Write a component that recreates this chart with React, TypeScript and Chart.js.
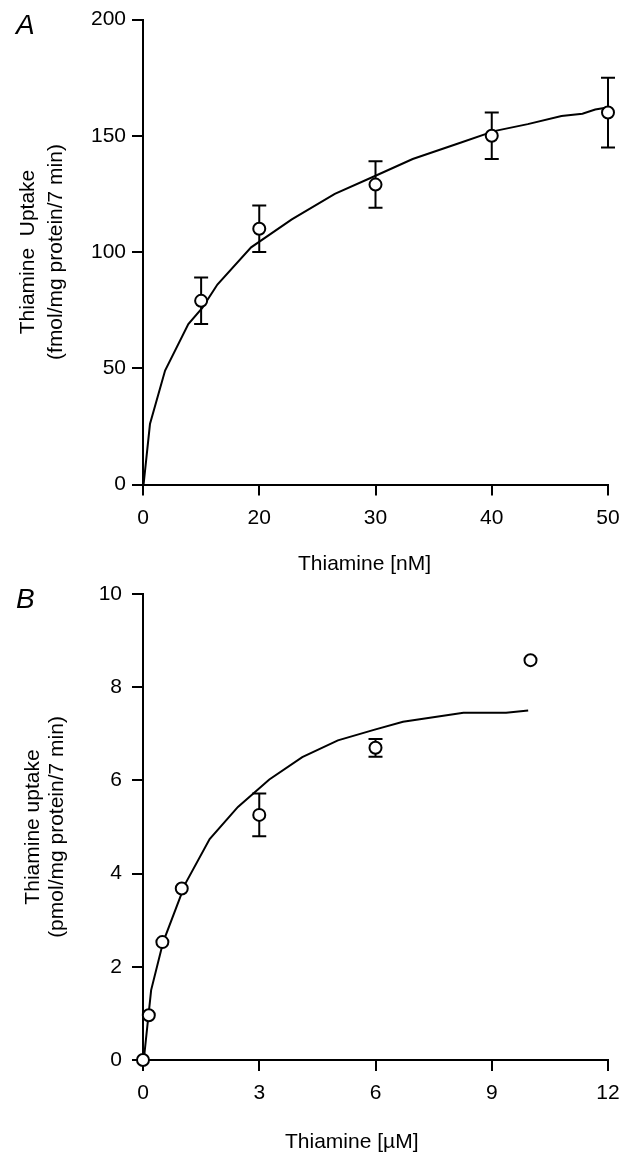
import React, { useEffect, useRef } from 'react';
import { Chart, registerables } from 'chart.js';

Chart.register(...registerables);
Chart.defaults.font.family = "'Liberation Sans', Arial, Helvetica, sans-serif";
Chart.defaults.color = '#000';

// ---------- Panel A (Thiamine [nM]) ----------
const A_POINT_X = [15, 20, 30, 40, 50];
const A_POINT_Y = [79, 110, 129, 150, 160];
const A_POINT_ERR = [10, 10, 10, 10, 15];
const A_CURVE_X = [10.05, 10.6, 11.9, 13.9, 15.1, 16.4, 19.3, 22.8, 26.5, 30.1, 33.2, 37.3, 40.2, 43.1, 46.0, 47.8, 48.9, 49.8];
const A_CURVE_Y = [0, 26, 49, 69, 76, 86, 102, 114, 125, 133, 140, 147, 152, 155, 158.5, 159.5, 161.3, 162];
const A_XTICK_VALUES = [10, 20, 30, 40, 50];
const A_XTICK_LABELS = ['0', '20', '30', '40', '50'];
const A_YTICK_VALUES = [0, 50, 100, 150, 200];
const A_X_TITLE = 'Thiamine [nM]';
const A_Y_TITLE = ['Thiamine  Uptake', '(fmol/mg protein/7 min)'];

// ---------- Panel B (Thiamine [µM]) ----------
const B_POINT_X = [0, 0.15, 0.5, 1, 3, 6, 10];
const B_POINT_Y = [0, 0.96, 2.53, 3.68, 5.26, 6.7, 8.58];
const B_POINT_ERR = [0, 0, 0, 0, 0.46, 0.19, 0];
const B_CURVE_X = [0.02, 0.21, 0.52, 1.09, 1.72, 2.45, 3.26, 4.11, 5.03, 5.98, 6.71, 8.27, 9.37, 9.94];
const B_CURVE_Y = [0, 1.5, 2.53, 3.78, 4.74, 5.43, 6.02, 6.5, 6.86, 7.09, 7.26, 7.45, 7.45, 7.5];
const B_XTICK_VALUES = [0, 3, 6, 9, 12];
const B_XTICK_LABELS = ['0', '3', '6', '9', '12'];
const B_YTICK_VALUES = [0, 2, 4, 6, 8, 10];
const B_X_TITLE = 'Thiamine [µM]';
const B_Y_TITLE = ['Thiamine uptake', '(pmol/mg protein/7 min)'];

const FONT = "'Liberation Sans', Arial, Helvetica, sans-serif";

const errorBarPlugin = {
  id: 'errorBars',
  beforeDatasetsDraw(chart: any, _args: any, opts: any) {
    const errs: number[] = opts.errors || [];
    const ds = chart.data.datasets[0];
    const xs = chart.scales.x;
    const ys = chart.scales.y;
    const ctx = chart.ctx;
    const cap = opts.cap || 7;
    ctx.save();
    ctx.strokeStyle = '#000';
    ctx.lineWidth = 2;
    ds.data.forEach((p: any, i: number) => {
      const e = errs[i];
      if (!e) return;
      const px = xs.getPixelForValue(p.x);
      const top = ys.getPixelForValue(p.y + e);
      const bot = ys.getPixelForValue(p.y - e);
      ctx.beginPath();
      ctx.moveTo(px, top);
      ctx.lineTo(px, bot);
      ctx.moveTo(px - cap, top);
      ctx.lineTo(px + cap, top);
      ctx.moveTo(px - cap, bot);
      ctx.lineTo(px + cap, bot);
      ctx.stroke();
    });
    ctx.restore();
  },
};

type PanelProps = {
  top: number;
  height: number;
  areaTop: number;
  areaBottom: number;
  px: number[];
  py: number[];
  err: number[];
  cx: number[];
  cy: number[];
  xMin: number;
  xMax: number;
  xTicks: number[];
  xLabels: string[];
  yTicks: number[];
  yTitle: string[];
  yTitleLineHeight: number;
  yTitlePadTop: number;
  yTickPad: number;
};

function Panel(props: PanelProps) {
  const ref = useRef<HTMLCanvasElement | null>(null);
  useEffect(() => {
    if (!ref.current) return;
    const W = 632;
    const left = 143;
    const right = 608;
    const chart = new Chart(ref.current, {
      type: 'scatter',
      data: {
        datasets: [
          {
            label: 'data',
            data: props.px.map((x, i) => ({ x, y: props.py[i] })),
            showLine: false,
            pointRadius: 6,
            pointHoverRadius: 6,
            pointBorderWidth: 2,
            pointBackgroundColor: '#fff',
            pointBorderColor: '#000',
            clip: false,
          } as any,
          {
            label: 'fit',
            data: props.cx.map((x, i) => ({ x, y: props.cy[i] })),
            showLine: true,
            borderColor: '#000',
            borderWidth: 2,
            pointRadius: 0,
            pointHoverRadius: 0,
            fill: false,
            tension: 0,
            clip: false,
          } as any,
        ],
      },
      options: {
        responsive: false,
        animation: false,
        events: [],
        layout: { padding: { left: 0, top: props.areaTop, right: W - right, bottom: 0 } },
        plugins: {
          legend: { display: false },
          tooltip: { enabled: false },
          errorBars: { errors: props.err, cap: 7 },
        } as any,
        scales: {
          x: {
            type: 'linear',
            min: props.xMin,
            max: props.xMax,
            afterBuildTicks: (s: any) => {
              s.ticks = props.xTicks.map((v) => ({ value: v }));
            },
            afterFit: (s: any) => {
              s.height = props.height - props.areaBottom;
              s.paddingLeft = 0;
              s.paddingRight = 0;
            },
            ticks: {
              callback: (_v: any, i: number) => props.xLabels[i],
              font: { size: 21 },
              color: '#000',
              padding: 10,
              maxRotation: 0,
              autoSkip: false,
            },
            grid: { drawOnChartArea: false, drawTicks: true, tickLength: 11, color: '#000', lineWidth: 2 },
            border: { display: true, color: '#000', width: 2 },
            title: { display: false },
          },
          y: {
            type: 'linear',
            min: props.yTicks[0],
            max: props.yTicks[props.yTicks.length - 1],
            afterBuildTicks: (s: any) => {
              s.ticks = props.yTicks.map((v) => ({ value: v }));
            },
            afterFit: (s: any) => {
              s.width = left;
              s.paddingTop = 0;
              s.paddingBottom = 0;
            },
            ticks: {
              font: { size: 21 },
              color: '#000',
              padding: props.yTickPad,
            },
            grid: { drawOnChartArea: false, drawTicks: true, tickLength: 11, color: '#000', lineWidth: 2 },
            border: { display: true, color: '#000', width: 2 },
            title: {
              display: true,
              text: props.yTitle,
              font: { size: 21, lineHeight: props.yTitleLineHeight },
              color: '#000',
              padding: { top: props.yTitlePadTop, bottom: 0 },
            },
          },
        },
      } as any,
      plugins: [errorBarPlugin],
    });
    return () => chart.destroy();
  }, []);
  return (
    <canvas
      ref={ref}
      width={632}
      height={props.height}
      style={{ position: 'absolute', left: 0, top: props.top, width: 632, height: props.height }}
    />
  );
}

const letterStyle: React.CSSProperties = {
  position: 'absolute',
  left: 16,
  fontFamily: FONT,
  fontStyle: 'italic',
  fontSize: 28,
  lineHeight: '28px',
  color: '#000',
};

const xTitleStyle: React.CSSProperties = {
  position: 'absolute',
  fontFamily: FONT,
  fontSize: 21,
  lineHeight: '24px',
  color: '#000',
  whiteSpace: 'nowrap',
};

export default function App() {
  return (
    <div style={{ position: 'absolute', left: 0, top: 0, width: 632, height: 1152, background: '#fff' }}>
      <Panel
        top={0}
        height={580}
        areaTop={19.5}
        areaBottom={484.5}
        px={A_POINT_X}
        py={A_POINT_Y}
        err={A_POINT_ERR}
        cx={A_CURVE_X}
        cy={A_CURVE_Y}
        xMin={10}
        xMax={50}
        xTicks={A_XTICK_VALUES}
        xLabels={A_XTICK_LABELS}
        yTicks={A_YTICK_VALUES}
        yTitle={A_Y_TITLE}
        yTitleLineHeight={1.35}
        yTitlePadTop={14}
        yTickPad={6}
      />
      <Panel
        top={580}
        height={572}
        areaTop={14}
        areaBottom={480}
        px={B_POINT_X}
        py={B_POINT_Y}
        err={B_POINT_ERR}
        cx={B_CURVE_X}
        cy={B_CURVE_Y}
        xMin={0}
        xMax={12}
        xTicks={B_XTICK_VALUES}
        xLabels={B_XTICK_LABELS}
        yTicks={B_YTICK_VALUES}
        yTitle={B_Y_TITLE}
        yTitleLineHeight={1.15}
        yTitlePadTop={21}
        yTickPad={10}
      />
      <div style={{ ...xTitleStyle, left: 298, top: 551 }}>{A_X_TITLE}</div>
      <div style={{ ...xTitleStyle, left: 285, top: 1129 }}>{B_X_TITLE}</div>
      <div style={{ ...letterStyle, top: 11 }}>A</div>
      <div style={{ ...letterStyle, top: 585 }}>B</div>
    </div>
  );
}
